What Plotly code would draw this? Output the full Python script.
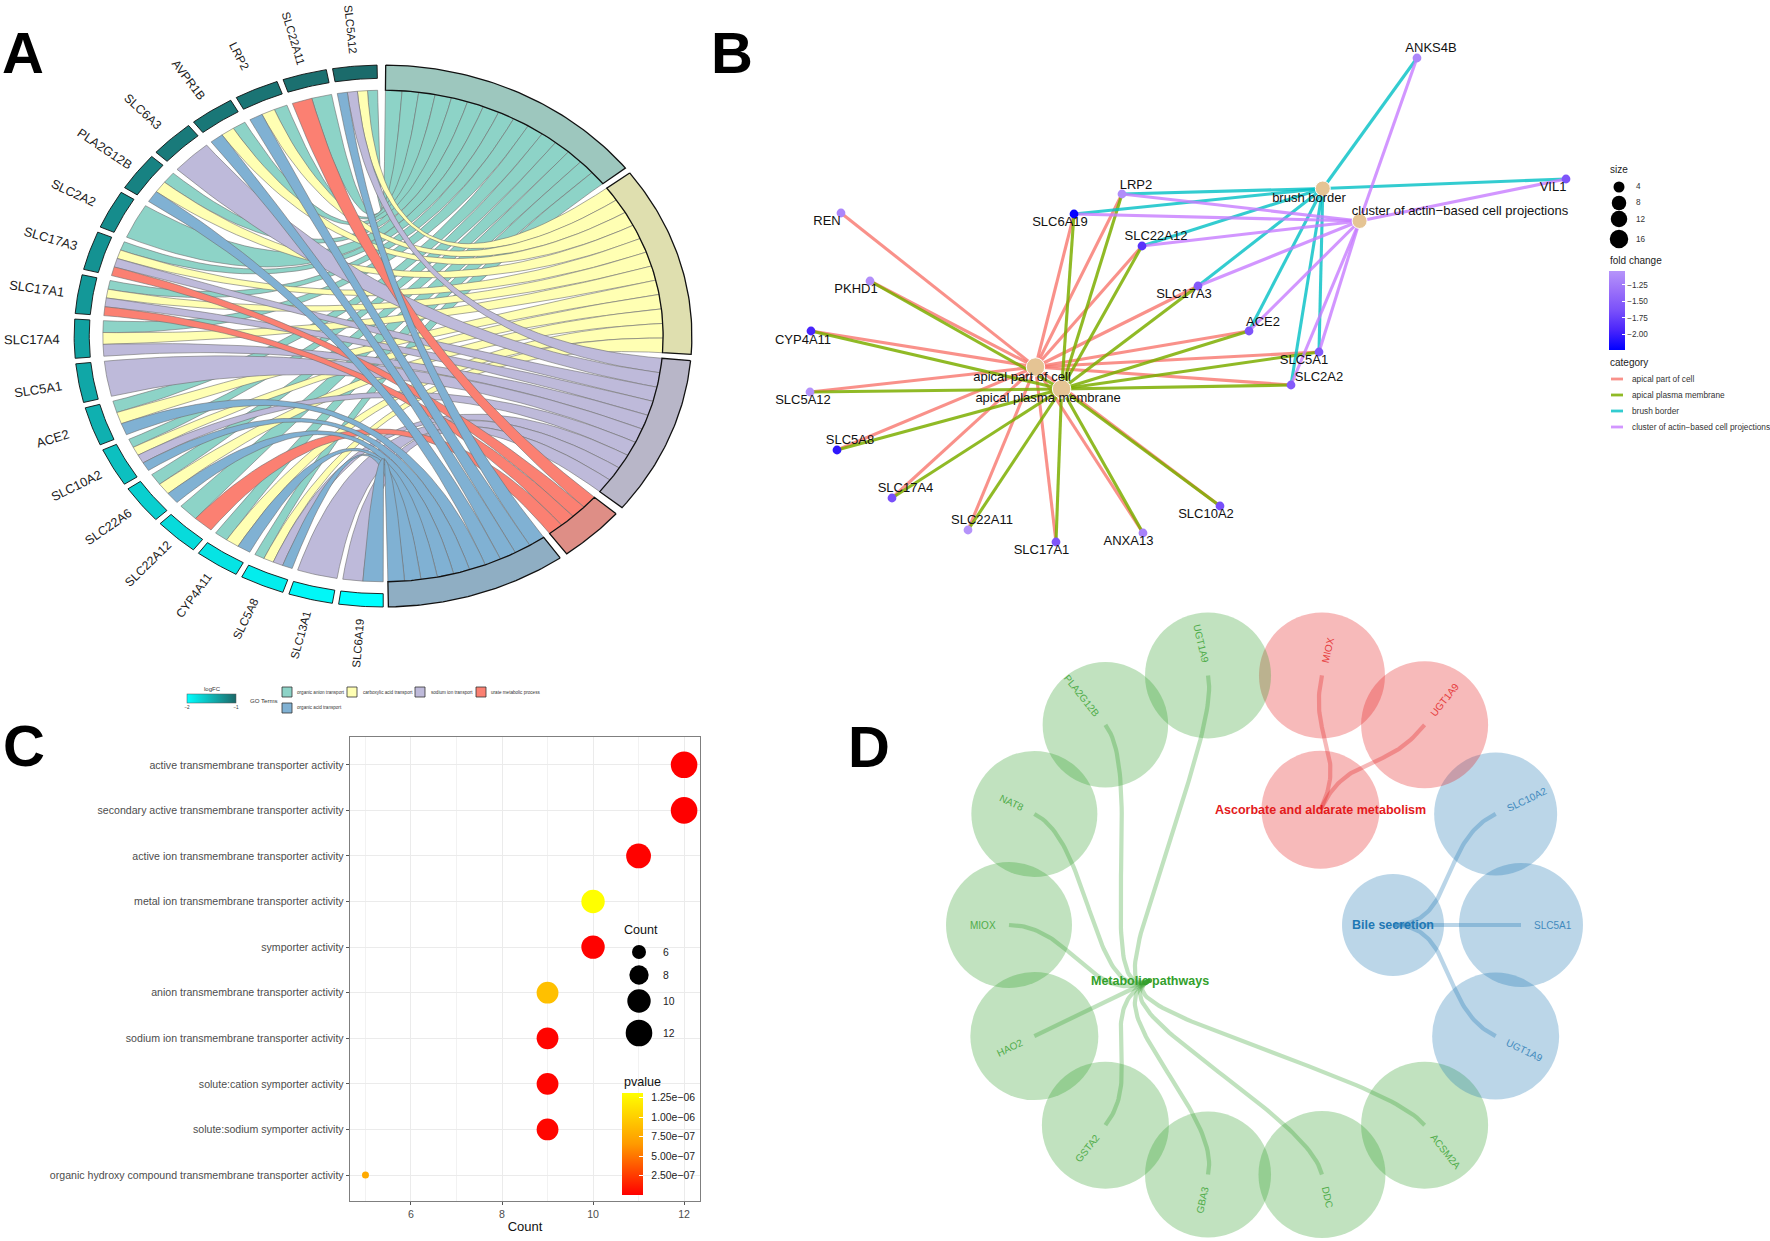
import math
import plotly.graph_objects as go

W, H = 1770, 1241
FONT = "Liberation Sans"

# ---------------- Panel A data ----------------
a_genes = ["SLC5A12", "SLC22A11", "LRP2", "AVPR1B", "SLC6A3", "PLA2G12B", "SLC2A2", "SLC17A3", "SLC17A1", "SLC17A4",
           "SLC5A1", "ACE2", "SLC10A2", "SLC22A6", "SLC22A12", "CYP4A11", "SLC5A8", "SLC13A1", "SLC6A19"]
a_logfc = [-1.02, -1.05, -1.08, -1.10, -1.12, -1.17, -1.24, -1.28, -1.32, -1.38,
           -1.42, -1.48, -1.58, -1.68, -1.76, -1.82, -1.88, -1.95, -2.0]
a_terms = ["organic anion transport", "carboxylic acid transport", "sodium ion transport", "urate metabolic process", "organic acid transport"]
a_anion = ["SLC5A12", "SLC22A11", "LRP2", "AVPR1B", "PLA2G12B", "SLC2A2", "SLC17A3", "SLC17A1", "SLC17A4", "ACE2", "SLC10A2", "SLC22A6", "SLC22A12", "CYP4A11", "SLC5A8"]
a_carbox = ["SLC5A12", "LRP2", "AVPR1B", "PLA2G12B", "SLC17A3", "SLC17A1", "SLC17A4", "ACE2", "SLC10A2", "SLC22A6", "CYP4A11", "SLC5A8"]
a_sodium = ["SLC5A12", "SLC6A3", "SLC17A3", "SLC17A1", "SLC17A4", "SLC5A1", "SLC10A2", "SLC5A8", "SLC13A1", "SLC6A19"]
a_urate = ["SLC22A11", "SLC17A3", "SLC17A1", "SLC22A12"]
a_acid = ["SLC5A12", "LRP2", "AVPR1B", "PLA2G12B", "ACE2", "SLC10A2", "SLC22A6", "CYP4A11", "SLC5A8", "SLC6A19"]
a_members = [a_anion, a_carbox, a_sodium, a_urate, a_acid]

# ---------------- Panel B data ----------------
b_terms = ["apical part of cell", "apical plasma membrane", "brush border", "cluster of actin\u2212based cell projections"]
b_term_x = [315.5, 341.6, 602.8, 639.6]
b_term_y = [367, 389, 188.5, 221]
b_term_size = [18.5, 18.5, 15, 15]
b_term_label_x = [302, 328, 589, 740]
b_term_label_y = [378, 399, 198.5, 211.5]
b_genes = ["ANKS4B", "VIL1", "LRP2", "SLC6A19", "REN", "SLC22A12", "PKHD1", "SLC17A3", "CYP4A11", "ACE2", "SLC5A1", "SLC2A2",
           "SLC5A12", "SLC5A8", "SLC17A4", "SLC22A11", "SLC17A1", "ANXA13", "SLC10A2"]
b_x = [697, 846, 402, 354, 121, 422, 150, 478, 91, 529, 599, 571, 90, 117, 172, 248, 336, 423, 500]
b_y = [58, 179, 194, 214, 213, 246, 281, 286, 331, 331, 352, 385, 392, 450, 498, 530, 542, 533, 506]
b_fold = [-1.15, -1.6, -1.1, -2.22, -1.15, -1.85, -1.08, -1.55, -1.95, -1.6, -1.55, -1.55, -1.06, -2.05, -1.65, -1.05, -1.6, -1.2, -1.65]
b_label_x = [711, 833, 416, 340, 107, 436, 136, 464, 83, 543, 584, 599, 83, 130, 185.5, 262, 321.5, 408.5, 486]
b_label_y = [49, 188, 185.5, 223, 222, 237, 290, 295, 340.5, 322.5, 361, 377.5, 401, 441, 489, 521, 551, 542, 514.5]
b_apical_part = ["REN", "PKHD1", "CYP4A11", "SLC5A12", "SLC5A8", "SLC17A4", "SLC22A11", "SLC17A1", "ANXA13", "SLC10A2", "SLC2A2", "SLC5A1", "ACE2", "SLC17A3", "SLC22A12", "SLC6A19", "LRP2"]
b_apical_plasma = ["PKHD1", "CYP4A11", "SLC5A12", "SLC5A8", "SLC17A4", "SLC22A11", "SLC17A1", "ANXA13", "SLC10A2", "SLC2A2", "SLC5A1", "ACE2", "SLC17A3", "SLC22A12", "SLC6A19", "LRP2"]
b_brush = ["ANKS4B", "VIL1", "LRP2", "SLC6A19", "SLC22A12", "SLC17A3", "ACE2", "SLC5A1", "SLC2A2"]
b_cluster = ["ANKS4B", "VIL1", "LRP2", "SLC6A19", "SLC22A12", "SLC17A3", "ACE2", "SLC5A1", "SLC2A2"]
b_edges = [b_apical_part, b_apical_plasma, b_brush, b_cluster]

# ---------------- Panel C data ----------------
c_terms = ["active transmembrane transporter activity", "secondary active transmembrane transporter activity",
           "active ion transmembrane transporter activity", "metal ion transmembrane transporter activity",
           "symporter activity", "anion transmembrane transporter activity", "sodium ion transmembrane transporter activity",
           "solute:cation symporter activity", "solute:sodium symporter activity",
           "organic hydroxy compound transmembrane transporter activity"]
c_count = [12, 12, 11, 10, 10, 9, 9, 9, 9, 5]
c_pvalue = [1e-9, 2e-9, 8e-9, 1.31e-6, 1e-8, 9.0e-7, 1.5e-8, 2e-8, 2.5e-8, 7.6e-7]
c_size_by_count = {5: 7, 6: 14, 8: 19.3, 9: 21.8, 10: 23.4, 11: 24.8, 12: 26.6}
c_legend_counts = [6, 8, 10, 12]
c_pticks = [2.5e-7, 5e-7, 7.5e-7, 1e-6, 1.25e-6]
c_pticktext = ["\u00a0\u00a02.50e\u221207", "\u00a0\u00a05.00e\u221207", "\u00a0\u00a07.50e\u221207", "\u00a0\u00a01.00e\u221206", "\u00a0\u00a01.25e\u221206"]

# ---------------- Panel D data ----------------
d_leaves = ["SLC5A1", "SLC10A2", "UGT1A9", "MIOX", "UGT1A9", "PLA2G12B", "NAT8", "MIOX", "HAO2", "GSTA2", "GBA3", "DDC", "ACSM2A", "UGT1A9"]
d_group = [2, 2, 0, 0, 1, 1, 1, 1, 1, 1, 1, 1, 1, 2]
d_leaf_size = [124, 123, 127, 126, 126, 125.5, 126, 126, 128, 127, 126, 127, 127, 127]
d_hubs = ["Ascorbate and aldarate metabolism", "Metabolic pathways", "Bile secretion"]
d_hub_size = [118, 5, 102]
d_hub_angle = [64.3, 205.7, 0.0]
d_colors = ["#E31A1C", "#33A02C", "#1F78B4"]


def px(x):
    return x / W


def py(y):
    return 1 - y / H


fig = go.Figure()
annotations = []
shapes = []


def ann(text, x, y, size, color="#222222", anchor="left", bold=False, angle=0, xref="paper", yref="paper", opacity=1):
    if xref == "paper":
        x = px(x)
    if yref == "paper":
        y = py(y)
    annotations.append(dict(text=("<b>%s</b>" % text) if bold else text, x=x, y=y, xref=xref, yref=yref, showarrow=False,
                            xanchor=anchor, yanchor="middle", textangle=angle, borderpad=0, opacity=opacity,
                            font=dict(size=size, color=color, family=FONT)))


def interp(c0, c1, t):
    return "rgb(%d,%d,%d)" % tuple(round(a + (b - a) * t) for a, b in zip(c0, c1))


# ================= PANEL A: chord =================
RIB = 0.907
GENE_IN = 0.951
ribbon_cols = ["#8DD3C7", "#FFFFB3", "#BEBADA", "#FB8072", "#80B1D3"]
ring_cols = ["#9DC7BE", "#DFDFAF", "#B8B6C8", "#DE8E86", "#8FAEC3"]
term_bounds = [(0.5, 51.7), (53.0, 93.9), (95.2, 129.3), (131.0, 143.5), (145.0, 179.0)]
gene_low, gene_high = (0, 255, 255), (28, 104, 104)
LOG_MIN, LOG_MAX = -2.0, -1.0


def pol(r, a):
    t = math.radians(a)
    return r * math.sin(t), r * math.cos(t)


def arc(r, a0, a1, n=24):
    return [pol(r, a0 + (a1 - a0) * i / n) for i in range(n + 1)]


def bez(p0, p1, n=40):
    out = []
    for i in range(n + 1):
        t = i / n
        out.append(((1 - t) ** 2 * p0[0] + t ** 2 * p1[0], (1 - t) ** 2 * p0[1] + t ** 2 * p1[1]))
    return out


def poly(points, fill, line, width):
    fig.add_trace(go.Scatter(x=[p[0] for p in points], y=[p[1] for p in points], mode="lines", fill="toself", fillcolor=fill,
                             line=dict(color=line, width=width), hoverinfo="skip", showlegend=False, xaxis="x", yaxis="y"))


gene_sector = {g: (1.1 + 9.48 * k, 1.1 + 9.48 * k + 8.3) for k, g in enumerate(a_genes)}
for ti, members in enumerate(a_members):
    c0, c1 = term_bounds[ti]
    step = (c1 - c0) / len(members)
    for mi, g in enumerate(members):
        holders = [k for k in range(5) if g in a_members[k]]
        g0, g1 = gene_sector[g]
        gs = (g1 - g0) / len(holders)
        pos = holders.index(ti)
        a = -(g0 + gs * (pos + 1))
        b = -(g0 + gs * pos)
        c = c0 + step * mi
        d = c + step
        pts = arc(RIB, a, b, 8) + bez(pol(RIB, b), pol(RIB, c)) + arc(RIB, c, d, 8) + bez(pol(RIB, d), pol(RIB, a))
        poly(pts, ribbon_cols[ti], "#6E6E6E", 0.6)

for ti, (c0, c1) in enumerate(term_bounds):
    poly(arc(1.0, c0, c1, 50) + arc(RIB, c1, c0, 50) + [pol(1.0, c0)], ring_cols[ti], "#111111", 1.3)

rx, ry = 309.0, 271.4
for g, v in zip(a_genes, a_logfc):
    g0, g1 = gene_sector[g]
    col = interp(gene_low, gene_high, (v - LOG_MIN) / (LOG_MAX - LOG_MIN))
    poly(arc(1.0, -g0, -g1, 10) + arc(GENE_IN, -g1, -g0, 10) + [pol(1.0, -g0)], col, "#111111", 0.9)
    m = math.radians((g0 + g1) / 2)
    x, y = pol(1.135, -(g0 + g1) / 2)
    ang = math.degrees(math.atan2(ry * math.cos(m), rx * math.sin(m)))
    r_ang = math.radians(ang)
    squash = math.hypot(math.cos(r_ang), (ry / rx) * math.sin(r_ang))
    ann(g, x, y, 13 * squash, "#1a1a1a", "center", angle=ang, xref="x", yref="y")

# logFC colour bar carried by the gene values
gx = [pol(0.975, -sum(gene_sector[g]) / 2)[0] for g in a_genes]
gy = [pol(0.975, -sum(gene_sector[g]) / 2)[1] for g in a_genes]
fig.add_trace(go.Scatter(x=gx, y=gy, mode="markers", hoverinfo="skip", showlegend=False, xaxis="x", yaxis="y",
                         marker=dict(size=1, opacity=0, color=a_logfc, cmin=LOG_MIN, cmax=LOG_MAX,
                                     colorscale=[[0, "rgb(0,255,255)"], [1, "rgb(28,104,104)"]], showscale=True,
                                     colorbar=dict(orientation="h", x=px(187), xanchor="left", y=py(694), yanchor="top",
                                                   len=49, lenmode="pixels", thickness=9, xpad=0, ypad=0, outlinewidth=0.5,
                                                   outlinecolor="#555555", tickvals=[-2, -1], ticktext=["\u22122", "\u22121"], ticks="",
                                                   tickfont=dict(size=4.6, color="#333333", family=FONT)))))

ann("logFC", 212, 689, 6, "#333333", "center")
ann("GO Terms", 249, 700, 6.1, "#333333")
a_key_x = [282, 347, 415, 476, 282]
a_key_y = [692, 692, 692, 692, 708]
a_key_tx = [296, 362, 430, 490, 296]
for t, col, kx, ky, tx in zip(a_terms, ribbon_cols, a_key_x, a_key_y, a_key_tx):
    shapes.append(dict(type="rect", xref="paper", yref="paper", x0=px(kx), x1=px(kx + 10), y0=py(ky + 5), y1=py(ky - 5),
                       fillcolor=col, line=dict(color="#333333", width=0.8)))
    ann(t, tx, ky, 4.6, "#333333")

# ================= PANEL B: network =================
b_cols = ["rgba(248,118,109,0.8)", "rgba(124,174,0,0.85)", "rgba(0,191,196,0.8)", "rgba(199,124,255,0.8)"]
b_pos = dict(zip(b_genes, zip(b_x, b_y)))
for ti, genes in enumerate(b_edges):
    ex, ey = [], []
    for g in genes:
        ex += [b_term_x[ti], b_pos[g][0], None]
        ey += [b_term_y[ti], b_pos[g][1], None]
    fig.add_trace(go.Scatter(x=ex, y=ey, mode="lines", line=dict(color=b_cols[ti], width=3.1), hoverinfo="skip", showlegend=False,
                             xaxis="x2", yaxis="y2"))
fig.add_trace(go.Scatter(x=b_term_x, y=b_term_y, mode="markers", marker=dict(size=b_term_size, color="#E5C494", opacity=1), hoverinfo="skip",
                         showlegend=False, xaxis="x2", yaxis="y2"))
FOLD_MIN, FOLD_MAX = -2.24, -1.04
fig.add_trace(go.Scatter(x=b_x, y=b_y, mode="markers", hoverinfo="skip", showlegend=False, xaxis="x2", yaxis="y2",
                         marker=dict(size=8.8, color=b_fold, cmin=FOLD_MIN, cmax=FOLD_MAX,
                                     colorscale=[[0, "#0000FF"], [0.25, "#4A25FB"], [0.5, "#7A50FA"], [0.75, "#9A70F9"], [1, "#B694FA"]], showscale=True,
                                     colorbar=dict(x=px(1609), xanchor="left", y=py(310.5), yanchor="middle", len=79, lenmode="pixels",
                                                   thickness=16, xpad=0, ypad=0, outlinewidth=0, tickvals=[-1.25, -1.5, -1.75, -2.0],
                                                   ticktext=["\u22121.25", "\u22121.50", "\u22121.75", "\u22122.00"], ticks="inside",
                                                   ticklen=3, tickcolor="#FFFFFF",
                                                   tickfont=dict(size=8.2, color="#333333", family=FONT)))))
fig.add_trace(go.Scatter(x=b_label_x + b_term_label_x, y=b_label_y + b_term_label_y, text=b_genes + b_terms, mode="text",
                         textposition="middle center", textfont=dict(size=13, color="#111111", family=FONT), hoverinfo="skip",
                         showlegend=False, xaxis="x2", yaxis="y2"))

ann("size", 1609, 169, 10, "#222222")
b_size_vals = ["4", "8", "12", "16"]
b_size_y = [187, 203, 219, 239]
b_size_d = [11, 14.5, 16.5, 18.5]
for lab, yy, d in zip(b_size_vals, b_size_y, b_size_d):
    shapes.append(dict(type="circle", xref="paper", yref="paper", x0=px(1619 - d / 2), x1=px(1619 + d / 2), y0=py(yy + d / 2), y1=py(yy - d / 2),
                       fillcolor="#000000", line=dict(width=0)))
    ann(lab, 1635, yy, 8.2, "#333333")
ann("fold change", 1609, 261, 10, "#222222")
ann("category", 1609, 362, 10, "#222222")
b_leg_y = [379, 395, 411, 427]
for lab, col, yy in zip(b_terms, b_cols, b_leg_y):
    shapes.append(dict(type="line", xref="paper", yref="paper", x0=px(1611), x1=px(1623), y0=py(yy), y1=py(yy), line=dict(color=col, width=2.8)))
    ann(lab, 1631, yy, 8.3, "#333333")

# ================= PANEL C: dot plot =================
fig.add_trace(go.Scatter(x=c_count, y=c_terms, mode="markers", hoverinfo="skip", showlegend=False, xaxis="x3", yaxis="y3",
                         marker=dict(size=[c_size_by_count[c] for c in c_count], color=c_pvalue, cmin=0, cmax=1.31e-6, opacity=1,
                                     colorscale=[[0, "#FF0000"], [0.5, "#FF9A00"], [1, "#FFFF00"]], showscale=True, line=dict(width=0),
                                     colorbar=dict(x=px(622), xanchor="left", y=py(1144), yanchor="middle", len=102, lenmode="pixels",
                                                   thickness=21, xpad=0, ypad=0, outlinewidth=0, tickvals=c_pticks, ticktext=c_pticktext,
                                                   ticks="inside", ticklen=4, tickcolor="#FFFFFF",
                                                   tickfont=dict(size=10.4, color="#222222", family=FONT)))))
ann("Count", 623, 930, 12.6, "#111111")
c_leg_y = [952, 975, 1001, 1033]
for cnt, yy in zip(c_legend_counts, c_leg_y):
    d = c_size_by_count[cnt]
    shapes.append(dict(type="circle", xref="paper", yref="paper", x0=px(639 - d / 2), x1=px(639 + d / 2), y0=py(yy + d / 2), y1=py(yy - d / 2),
                       fillcolor="#000000", line=dict(width=0)))
    ann(str(cnt), 662, yy, 10.4, "#222222")
ann("pvalue", 623, 1082, 12.6, "#111111")

# ================= PANEL D: radial network =================
d_center_r = 256.0
d_hub_r = 128.0


def dpos(r, deg):
    t = math.radians(deg)
    return r * math.cos(t), r * math.sin(t)


widths = {c: 0.667 for c in "ABCDEFGHIJKLMNOPQRSTUVWXYZ"}
widths.update({"I": 0.278, "J": 0.5, "L": 0.556, "C": 0.722, "D": 0.722, "G": 0.778, "H": 0.722, "M": 0.833, "N": 0.722, "O": 0.778, "T": 0.611, "U": 0.722, "Q": 0.778, "R": 0.722, "W": 0.944, "F": 0.611, "Z": 0.611})


def text_w(s, size):
    return sum(widths.get(c, 0.556) for c in s) * size


leaf_angles = [k * 360 / 14 for k in range(14)]
for i, (name, g, s, deg) in enumerate(zip(d_leaves, d_group, d_leaf_size, leaf_angles)):
    x, y = dpos(d_center_r, deg)
    fig.add_trace(go.Scatter(x=[x], y=[y], mode="markers", cliponaxis=False, marker=dict(size=s, color=d_colors[g], opacity=0.3, line=dict(width=0)),
                             hoverinfo="skip", showlegend=False, xaxis="x4", yaxis="y4"))
for hub, s, deg, col in zip(d_hubs, d_hub_size, d_hub_angle, d_colors):
    x, y = dpos(d_hub_r, deg)
    fig.add_trace(go.Scatter(x=[x], y=[y], mode="markers", cliponaxis=False, marker=dict(size=s, color=col, opacity=0.3 if s > 20 else 0.9, line=dict(width=0)),
                             hoverinfo="skip", showlegend=False, xaxis="x4", yaxis="y4"))
for i, (name, g, deg) in enumerate(zip(d_leaves, d_group, leaf_angles)):
    hdeg = d_hub_angle[g]
    if g == 2 and deg > 180:
        deg_link = deg - 360
    else:
        deg_link = deg
    rm = (d_center_r + d_hub_r) / 2
    p0 = dpos(d_center_r, deg_link)
    p1 = dpos(rm, deg_link)
    p2 = dpos(rm, hdeg)
    p3 = dpos(d_hub_r, hdeg)
    xs, ys = [], []
    for k in range(61):
        t = k / 60
        u = 1 - t
        xs.append(u ** 3 * p0[0] + 3 * u * u * t * p1[0] + 3 * u * t * t * p2[0] + t ** 3 * p3[0])
        ys.append(u ** 3 * p0[1] + 3 * u * u * t * p1[1] + 3 * u * t * t * p2[1] + t ** 3 * p3[1])
    fig.add_trace(go.Scatter(x=xs, y=ys, mode="lines", line=dict(color=d_colors[g], width=4.2), opacity=0.3, hoverinfo="skip", showlegend=False,
                             xaxis="x4", yaxis="y4"))
    w = text_w(name, 10)
    tx, ty = dpos(d_center_r + 13 + w / 2, deg)
    d = deg if deg <= 90 or deg >= 270 else deg - 180
    ang = -d if d <= 90 else 360 - d
    ann(name, tx, ty, 10, d_colors[g], "center", angle=ang, xref="x4", yref="y4", opacity=0.8)
for hub, deg, col in zip(d_hubs, d_hub_angle, d_colors):
    x, y = dpos(d_hub_r, deg)
    ann(hub, x, y, 12.5, col, "center", bold=True, xref="x4", yref="y4")

# ================= panel letters =================
letters = ["A", "B", "C", "D"]
letter_x = [1, 710, 2, 847]
letter_y = [53, 53, 745, 746]
for t, x, y in zip(letters, letter_x, letter_y):
    ann(t, x, y, 58, "#000000", bold=True)


def hide(domain_x, domain_y, xr, yr):
    xa = dict(domain=[px(domain_x[0]), px(domain_x[1])], range=xr, visible=False, fixedrange=True)
    ya = dict(domain=[py(domain_y[1]), py(domain_y[0])], range=yr, visible=False, fixedrange=True)
    return xa, ya


xa1, ya1 = hide((0, 766), (0, 672), [-1.24, 1.24], [-1.24, 1.24])
xa2, ya2 = hide((720, 1770), (0, 600), [0, 1050], [600, 0])
xa4, ya4 = hide((949, 1581), (609, 1241), [-316, 316], [-316, 316])
ya1["anchor"] = "x"; xa1["anchor"] = "y"
xa2["anchor"] = "y2"; ya2["anchor"] = "x2"
xa4["anchor"] = "y4"; ya4["anchor"] = "x4"

xa3 = dict(domain=[px(350), px(700)], range=[4.66, 12.35], anchor="y3", tickvals=[6, 8, 10, 12], showgrid=True, gridcolor="#EBEBEB", gridwidth=1.2,
           minor=dict(tickvals=[5, 7, 9, 11], showgrid=True, gridcolor="#F2F2F2", gridwidth=0.7, ticks=""),
           showline=True, mirror=True, linecolor="#7F7F7F", linewidth=1.4, ticks="outside", ticklen=3, tickcolor="#555555",
           tickfont=dict(size=10.6, color="#4D4D4D", family=FONT), zeroline=False, fixedrange=True,
           title=dict(text="Count", font=dict(size=13, color="#111111", family=FONT), standoff=2))
ya3 = dict(domain=[py(1201), py(737)], range=[-0.57, 9.61], anchor="x3", type="category", categoryorder="array", categoryarray=c_terms[::-1],
           showgrid=True, gridcolor="#EBEBEB", gridwidth=1.4, showline=True, mirror=True, linecolor="#7F7F7F", linewidth=1.4,
           ticks="outside", ticklen=3, tickcolor="#555555", tickfont=dict(size=10.6, color="#4D4D4D", family=FONT), zeroline=False, fixedrange=True)

fig.update_layout(width=W, height=H, autosize=False, margin=dict(l=0, r=0, t=0, b=0, pad=0), paper_bgcolor="#FFFFFF", plot_bgcolor="#FFFFFF",
                  showlegend=False, font=dict(family=FONT), annotations=annotations, shapes=shapes,
                  xaxis=xa1, yaxis=ya1, xaxis2=xa2, yaxis2=ya2, xaxis3=xa3, yaxis3=ya3, xaxis4=xa4, yaxis4=ya4)

fig.write_html("out.html", config={"displayModeBar": False, "responsive": False},
               post_script="document.body.style.margin='0';document.documentElement.style.overflow='hidden';")
